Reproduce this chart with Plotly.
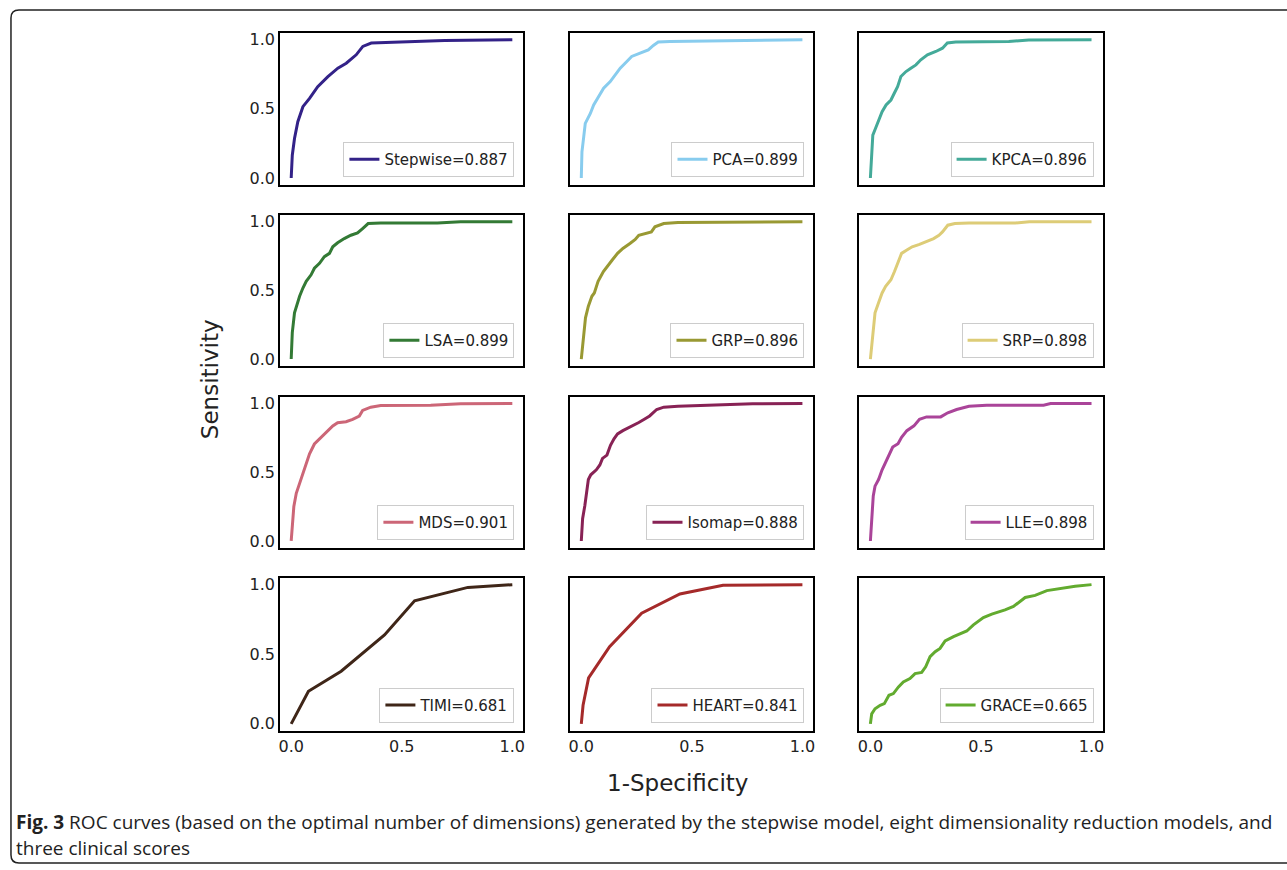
import plotly.graph_objects as go

W, H = 1287, 870

names = ["Stepwise", "PCA", "KPCA", "LSA", "GRP", "SRP", "MDS", "Isomap", "LLE", "TIMI", "HEART", "GRACE"]
aucs = ["0.887", "0.899", "0.896", "0.899", "0.896", "0.898", "0.901", "0.888", "0.898", "0.681", "0.841", "0.665"]
colors = ["#332288", "#88CCEE", "#44AA99", "#337a35", "#999933", "#DDCC77",
          "#CC6677", "#882255", "#AA4499", "#3f2618", "#a52a2a", "#62ab2f"]

stepwise_x = [0, 0.005, 0.015, 0.03, 0.053, 0.083, 0.12, 0.166, 0.211, 0.249, 0.294, 0.324, 0.362, 0.483, 0.694, 1]
stepwise_y = [0, 0.165, 0.286, 0.407, 0.516, 0.576, 0.66, 0.733, 0.794, 0.83, 0.891, 0.952, 0.976, 0.983, 0.995, 1]

pca_x = [0, 0.003, 0.011, 0.018, 0.041, 0.056, 0.078, 0.101, 0.131, 0.153, 0.176, 0.206, 0.228, 0.266, 0.303, 0.326, 0.348, 0.401, 0.656, 0.746, 1]
pca_y = [0, 0.189, 0.298, 0.395, 0.467, 0.528, 0.588, 0.649, 0.697, 0.746, 0.794, 0.843, 0.879, 0.903, 0.927, 0.959, 0.983, 0.988, 0.993, 0.998, 1]

kpca_x = [0, 0.005, 0.011, 0.023, 0.038, 0.053, 0.071, 0.093, 0.108, 0.123, 0.138, 0.161, 0.183, 0.206, 0.228, 0.258, 0.296, 0.326, 0.348, 0.386, 0.626, 0.716, 1]
kpca_y = [0, 0.14, 0.31, 0.358, 0.419, 0.479, 0.528, 0.564, 0.613, 0.661, 0.734, 0.77, 0.794, 0.818, 0.855, 0.891, 0.915, 0.939, 0.976, 0.983, 0.988, 0.998, 1]

lsa_x = [0, 0.005, 0.015, 0.023, 0.038, 0.053, 0.068, 0.09, 0.105, 0.128, 0.15, 0.173, 0.188, 0.21, 0.24, 0.27, 0.3, 0.323, 0.348, 0.405, 0.661, 0.766, 1]
lsa_y = [0, 0.192, 0.337, 0.385, 0.457, 0.517, 0.565, 0.613, 0.661, 0.697, 0.745, 0.769, 0.817, 0.846, 0.877, 0.901, 0.918, 0.95, 0.986, 0.99, 0.99, 1.0, 1]

grp_x = [0, 0.006, 0.011, 0.019, 0.032, 0.048, 0.059, 0.076, 0.1, 0.116, 0.14, 0.164, 0.188, 0.22, 0.244, 0.26, 0.293, 0.317, 0.333, 0.373, 0.437, 0.63, 0.759, 1]
grp_y = [0, 0.096, 0.216, 0.3, 0.385, 0.457, 0.481, 0.565, 0.637, 0.673, 0.721, 0.769, 0.805, 0.841, 0.87, 0.901, 0.913, 0.925, 0.962, 0.986, 0.993, 0.995, 1.0, 1]

srp_x = [0, 0.006, 0.013, 0.021, 0.037, 0.053, 0.069, 0.093, 0.109, 0.125, 0.141, 0.165, 0.189, 0.222, 0.254, 0.286, 0.31, 0.326, 0.35, 0.382, 0.446, 0.655, 0.719, 1]
srp_y = [0, 0.096, 0.24, 0.337, 0.409, 0.481, 0.529, 0.577, 0.637, 0.697, 0.769, 0.793, 0.817, 0.834, 0.853, 0.877, 0.901, 0.925, 0.974, 0.986, 0.99, 0.99, 1.0, 1]

mds_x = [0, 0.005, 0.012, 0.023, 0.038, 0.053, 0.068, 0.083, 0.105, 0.135, 0.165, 0.188, 0.21, 0.248, 0.278, 0.308, 0.323, 0.36, 0.405, 0.631, 0.766, 1]
mds_y = [0, 0.132, 0.251, 0.347, 0.419, 0.49, 0.55, 0.634, 0.706, 0.754, 0.801, 0.837, 0.861, 0.868, 0.885, 0.909, 0.95, 0.974, 0.986, 0.988, 0.998, 1]

isomap_x = [0, 0.006, 0.016, 0.023, 0.032, 0.043, 0.068, 0.084, 0.096, 0.116, 0.132, 0.148, 0.164, 0.188, 0.212, 0.236, 0.26, 0.285, 0.309, 0.341, 0.373, 0.437, 0.582, 0.775, 1]
isomap_y = [0, 0.162, 0.257, 0.328, 0.447, 0.482, 0.518, 0.553, 0.601, 0.625, 0.696, 0.743, 0.779, 0.803, 0.822, 0.838, 0.862, 0.886, 0.91, 0.957, 0.974, 0.981, 0.986, 0.998, 1]

lle_x = [0, 0.006, 0.013, 0.021, 0.037, 0.053, 0.069, 0.085, 0.101, 0.125, 0.141, 0.165, 0.197, 0.222, 0.254, 0.318, 0.35, 0.39, 0.446, 0.526, 0.783, 0.815, 1]
lle_y = [0, 0.185, 0.328, 0.399, 0.447, 0.518, 0.577, 0.637, 0.684, 0.708, 0.755, 0.803, 0.838, 0.886, 0.903, 0.903, 0.933, 0.957, 0.981, 0.988, 0.988, 1.0, 1]

timi_x = [0, 0.078, 0.226, 0.422, 0.558, 0.799, 1]
timi_y = [0, 0.234, 0.378, 0.639, 0.884, 0.98, 1]

heart_x = [0, 0.008, 0.033, 0.128, 0.273, 0.446, 0.641, 1]
heart_y = [0, 0.133, 0.33, 0.554, 0.795, 0.933, 0.995, 1]

grace_x = [0, 0.006, 0.021, 0.044, 0.063, 0.084, 0.104, 0.127, 0.149, 0.179, 0.202, 0.232, 0.25, 0.27, 0.293, 0.315, 0.338, 0.376, 0.436, 0.466, 0.511, 0.549, 0.609, 0.647, 0.7, 0.745, 0.798, 0.843, 0.926, 1]
grace_y = [0, 0.072, 0.108, 0.133, 0.145, 0.205, 0.217, 0.265, 0.301, 0.325, 0.361, 0.369, 0.41, 0.482, 0.518, 0.542, 0.595, 0.627, 0.667, 0.711, 0.764, 0.788, 0.819, 0.843, 0.908, 0.923, 0.957, 0.969, 0.988, 1]

xs = [stepwise_x, pca_x, kpca_x, lsa_x, grp_x, srp_x, mds_x, isomap_x, lle_x, timi_x, heart_x, grace_x]
ys = [stepwise_y, pca_y, kpca_y, lsa_y, grp_y, srp_y, mds_y, isomap_y, lle_y, timi_y, heart_y, grace_y]

tick_vals = [0.0, 0.5, 1.0]
tick_text = ["0.0", "0.5", "1.0"]

# panel boxes in pixels
col_px = [(279, 523), (570, 814), (860, 1104)]
row_px = [(31, 184), (214, 366), (397, 549), (579, 733)]

fig = go.Figure()
layout = dict(
    width=W, height=H, autosize=False,
    margin=dict(l=0, r=0, t=0, b=0),
    paper_bgcolor="white", plot_bgcolor="white",
    showlegend=True,
)

font_fam = "DejaVu Sans"
for i in range(12):
    r, c = divmod(i, 3)
    n = i + 1
    suf = "" if n == 1 else str(n)
    x0, x1 = col_px[c]
    yt, yb = row_px[r]
    xd = [x0 / W, x1 / W]
    yd = [1 - yb / H, 1 - yt / H]
    fig.add_trace(go.Scatter(
        x=xs[i], y=ys[i], mode="lines",
        line=dict(color=colors[i], width=3),
        name=f"{names[i]}={aucs[i]}",
        xaxis="x" + suf, yaxis="y" + suf,
        legend="legend" + suf,
    ))
    layout["xaxis" + suf] = dict(
        domain=xd, anchor="y" + suf, range=[-0.05, 1.05],
        showgrid=False, zeroline=False, showline=True, linecolor="black",
        linewidth=2, mirror=True, ticks="",
        tickvals=tick_vals, ticktext=tick_text,
        showticklabels=(r == 3),
        tickfont=dict(family=font_fam, size=16, color="#222"),
    )
    layout["yaxis" + suf] = dict(
        domain=yd, anchor="x" + suf, range=[-0.05, 1.05],
        showgrid=False, zeroline=False, showline=True, linecolor="black",
        linewidth=2, mirror=True, ticks="",
        tickvals=tick_vals, ticktext=tick_text,
        showticklabels=(c == 0),
        tickfont=dict(family=font_fam, size=16, color="#222"),
    )
    layout["legend" + suf] = dict(
        x=(x1 - 9) / W, y=1 - (yb - 8) / H, xref="paper", yref="paper",
        xanchor="right", yanchor="bottom",
        bgcolor="white", bordercolor="#cccccc", borderwidth=1,
        font=dict(family=font_fam, size=15, color="#222"),
        itemwidth=30, tracegroupgap=0,
    )

rx, ry = 8 / W, 8 / H
L, T, R, B = 9 / W, 1 - 8 / H, 1.01, 1 - 866 / H
path = (f"M {L},{B + ry} L {L},{T - ry} Q {L},{T} {L + rx},{T} L {R},{T} "
        f"M {L},{B + ry} Q {L},{B} {L + rx},{B} L {R},{B}")
layout["shapes"] = [dict(type="path", xref="paper", yref="paper", path=path,
                         line=dict(color="#222", width=1.5))]

layout["annotations"] = [
    dict(text="Sensitivity", x=208 / W, y=1 - 379 / H, xref="paper", yref="paper",
         textangle=-90, showarrow=False, font=dict(family=font_fam, size=23, color="#222"),
         xanchor="center", yanchor="middle"),
    dict(text="1-Specificity", x=678 / W, y=1 - 786 / H, xref="paper", yref="paper",
         showarrow=False, font=dict(family=font_fam, size=23, color="#222"),
         xanchor="center", yanchor="middle"),
    dict(text="<b>Fig. 3</b> ROC curves (based on the optimal number of dimensions) generated by the stepwise model, eight dimensionality reduction models, and",
         x=12 / W, y=1 - 825 / H, xref="paper", yref="paper", showarrow=False,
         font=dict(family="Open Sans", size=19, color="#222"), xanchor="left", yanchor="middle"),
    dict(text="three clinical scores",
         x=12 / W, y=1 - 851 / H, xref="paper", yref="paper", showarrow=False,
         font=dict(family="Open Sans", size=19, color="#222"), xanchor="left", yanchor="middle"),
]

fig.update_layout(**layout)
fig.write_html("out.html")
